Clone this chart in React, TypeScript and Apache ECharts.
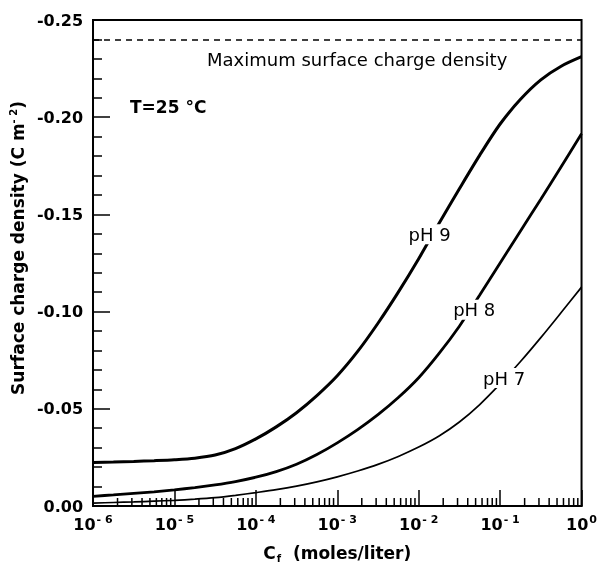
import React, { useEffect, useRef } from "react";
import * as echarts from "echarts";

// concentration (moles/liter), quarter-decade steps
const concentrations = [
  1e-6, 1.78e-6, 3.16e-6, 5.62e-6,
  1e-5, 1.78e-5, 3.16e-5, 5.62e-5,
  1e-4, 1.78e-4, 3.16e-4, 5.62e-4,
  1e-3, 1.78e-3, 3.16e-3, 5.62e-3,
  1e-2, 1.78e-2, 3.16e-2, 5.62e-2,
  1e-1, 1.78e-1, 3.16e-1, 5.62e-1,
  1,
];
// surface charge density (C m^-2)
const pH9 = [
  -0.0224, -0.0226, -0.0229, -0.0233,
  -0.0238, -0.0246, -0.0262, -0.0295,
  -0.0345, -0.0407, -0.048, -0.0568,
  -0.067, -0.0795, -0.094, -0.11,
  -0.1272, -0.1455, -0.1632, -0.1805,
  -0.1965, -0.2092, -0.2192, -0.2262,
  -0.2311,
];
const pH8 = [
  -0.005, -0.0057, -0.0065, -0.0073,
  -0.0083, -0.0095, -0.0109, -0.0126,
  -0.0148, -0.0177, -0.0215, -0.0265,
  -0.0325, -0.0393, -0.047, -0.0558,
  -0.066, -0.0785, -0.0925, -0.1085,
  -0.125, -0.1415, -0.1578, -0.1745,
  -0.1915,
];
const pH7 = [
  -0.0015, -0.0018, -0.0021, -0.0025,
  -0.0029, -0.0035, -0.0043, -0.0055,
  -0.0069, -0.0084, -0.0102, -0.0124,
  -0.015, -0.018, -0.0214, -0.0255,
  -0.0303, -0.036, -0.0432, -0.0522,
  -0.0628, -0.0743, -0.0866, -0.0995,
  -0.1126,
];
const maxDensity = -0.24;
const seriesNames = ["pH 9", "pH 8", "pH 7"];
// label anchors [concentration, density]
const labelPos: [number, number][] = [[0.0136, -0.1398], [0.0481, -0.101], [0.112, -0.0658]];
// log minor ticks (2..9 within each decade)
const minorTicks: number[] = [];
for (let d = -6; d < 0; d++) for (let k = 2; k <= 9; k++) minorTicks.push(k * Math.pow(10, d));

const FONT = "DejaVu Sans";

export default function App() {
  const ref = useRef<HTMLDivElement>(null);
  useEffect(() => {
    const chart = echarts.init(ref.current!, null, { renderer: "svg" });
    const all = [pH9, pH8, pH7];
    const widths = [3, 2.8, 1.7];
    const lineSeries = all.map((vals, i) => ({
      name: seriesNames[i],
      type: "line",
      data: vals.map((v, j) => [concentrations[j], v]),
      showSymbol: false,
      smooth: 0.3,
      lineStyle: { color: "#000", width: widths[i] },
      z: 3,
      markPoint: {
        symbol: "circle",
        symbolSize: 1,
        itemStyle: { color: "rgba(0,0,0,0)" },
        silent: true,
        z: 10,
        label: {
          show: true,
          position: "inside",
          formatter: seriesNames[i],
          color: "#000",
          fontFamily: FONT,
          fontSize: 18,
          backgroundColor: "#fff",
          padding: [1, 2],
        },
        data: [{ coord: labelPos[i] }],
      },
      markLine:
        i === 0
          ? {
              symbol: "none",
              silent: true,
              label: { show: false },
              lineStyle: { color: "#000", type: [6, 5], width: 1.5 },
              data: [{ yAxis: maxDensity }],
            }
          : undefined,
    }));
    chart.setOption({
      animation: false,
      grid: { left: 93, right: 16, top: 20, bottom: 59, show: true, borderColor: "#000", borderWidth: 2 },
      xAxis: {
        type: "log",
        logBase: 10,
        min: 1e-6,
        max: 1,
        name: "C{sub|f}  (moles/liter)",
        nameLocation: "middle",
        nameGap: 37,
        nameTextStyle: {
          fontFamily: FONT,
          fontWeight: "bold",
          fontSize: 17,
          color: "#000",
          rich: { sub: { fontFamily: FONT, fontWeight: "bold", fontSize: 10, padding: [10, 0, 0, 1], color: "#000" } },
        },
        axisLine: { lineStyle: { color: "#000", width: 2 } },
        axisTick: { inside: true, length: 16, lineStyle: { color: "#000", width: 1.5 } },
        minorTick: { show: false },
        splitLine: { show: false },
        axisLabel: {
          margin: 8,
          color: "#000",
          formatter: (v: number) => {
            const e = Math.round(Math.log10(v));
            return "{b|10}{s|" + (e === 0 ? "0" : "- " + -e) + "}";
          },
          rich: {
            b: { fontFamily: FONT, fontWeight: "bold", fontSize: 16, color: "#000" },
            s: { fontFamily: FONT, fontWeight: "bold", fontSize: 11, color: "#000", padding: [0, 0, 9, 1] },
          },
        },
      },
      yAxis: {
        type: "value",
        min: -0.25,
        max: 0,
        interval: 0.05,
        inverse: true,
        name: "Surface charge density (C m{sup|- 2})",
        nameLocation: "middle",
        nameGap: 66,
        nameTextStyle: {
          fontFamily: FONT,
          fontWeight: "bold",
          fontSize: 17,
          color: "#000",
          padding: [0, 0, 0, 30],
          rich: { sup: { fontFamily: FONT, fontWeight: "bold", fontSize: 10, padding: [0, 0, 9, 0], color: "#000" } },
        },
        axisLine: { lineStyle: { color: "#000", width: 2 } },
        axisTick: { inside: true, length: 17, lineStyle: { color: "#000", width: 1.5 } },
        minorTick: { show: true, splitNumber: 5, length: 9, lineStyle: { color: "#000", width: 1.5 } },
        splitLine: { show: false },
        axisLabel: {
          margin: 10,
          color: "#000",
          fontFamily: FONT,
          fontWeight: "bold",
          fontSize: 16,
          formatter: (v: number) => v.toFixed(2),
        },
      },
      graphic: [
        {
          type: "text",
          left: 207,
          top: 50,
          style: { text: "Maximum surface charge density", fontFamily: FONT, fontSize: 18, fill: "#000" },
        },
        {
          type: "text",
          left: 130,
          top: 98,
          style: { text: "T=25 °C", fontFamily: FONT, fontWeight: "bold", fontSize: 17, fill: "#000" },
        },
      ],
      series: [
        ...lineSeries,
        {
          type: "custom",
          silent: true,
          clip: false,
          data: minorTicks.map((v) => [v, 0]),
          encode: { x: 0, y: 1 },
          renderItem: (params: any, api: any) => {
            const p = api.coord([api.value(0), api.value(1)]);
            return {
              type: "line",
              shape: { x1: p[0], y1: p[1], x2: p[0], y2: p[1] - 8 },
              style: { stroke: "#000", lineWidth: 1.5 },
            };
          },
          z: 4,
        },
      ],
    });
    return () => chart.dispose();
  }, []);
  return <div ref={ref} style={{ position: "fixed", left: 0, top: 0, width: 600, height: 568 }} />;
}
